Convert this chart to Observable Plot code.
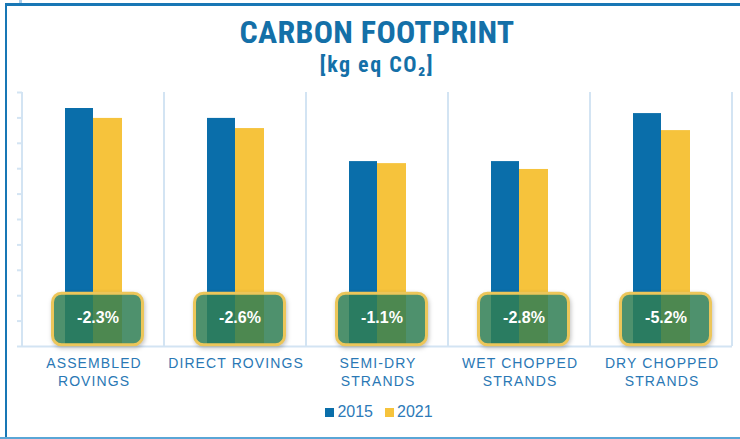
<!DOCTYPE html>
<html>
<head>
<meta charset="utf-8">
<script src="https://cdn.jsdelivr.net/npm/d3@7"></script>
<script src="https://cdn.jsdelivr.net/npm/@observablehq/plot@0.6"></script>
<style>
  html, body { margin: 0; padding: 0; background: #fff; }
  #wrap { position: relative; width: 740px; height: 439px; overflow: hidden; background: #fff; }
  #wrap svg { position: absolute; left: 0; top: 0; }
  .border-top { position: absolute; left: 5px; top: 3px; width: 735px; height: 3px; background: #1877b5; }
  .border-left { position: absolute; left: 5px; top: 3px; width: 2px; height: 436px; background: #1877b5; }
  .border-bottom { position: absolute; left: 0; top: 437px; width: 740px; height: 2px; background: #5aa6d6; }
  .tab { position: absolute; left: 19px; top: 0; width: 3px; height: 3px; background: #a8cdea; }
  .title { position: absolute; left: 22px; width: 710px; text-align: center; color: #1470a8;
           font-family: "Liberation Sans Narrow", "Roboto Condensed", "Liberation Sans", sans-serif; font-weight: bold; }
  .t1 { top: 16px; font-size: 32px; line-height: 32px; letter-spacing: 0.3px; }
  .t2 { top: 53px; font-size: 22px; line-height: 24px; letter-spacing: 1.5px; }
  .legend { position: absolute; left: 0; width: 740px; top: 403px; text-align: center; padding-left: 18px; box-sizing: border-box;
            font-family: "Liberation Sans", Arial, sans-serif; font-size: 16px; color: #2d7ab8; }
  .legend span.item { display: inline-block; margin: 0 6px; }
  .legend span.sw { display: inline-block; width: 9px; height: 9px; margin-right: 3px; vertical-align: 0px; }
  .box { filter: drop-shadow(1px 2px 2px rgba(0,0,0,0.25)); }
</style>
</head>
<body>
<div id="wrap">
  <div class="tab"></div>
  <div class="border-top"></div>
  <div class="border-left"></div>
  <div class="border-bottom"></div>
  <div class="title t1">CARBON FOOTPRINT</div>
  <div class="title t2">[kg eq CO₂]</div>
  <div class="legend" id="legend"></div>
</div>
<script>
const categories = ["ASSEMBLED ROVINGS", "DIRECT ROVINGS", "SEMI-DRY STRANDS", "WET CHOPPED STRANDS", "DRY CHOPPED STRANDS"];
const labelLine1 = ["ASSEMBLED", "DIRECT ROVINGS", "SEMI-DRY", "WET CHOPPED", "DRY CHOPPED"];
const labelLine2 = ["ROVINGS", "", "STRANDS", "STRANDS", "STRANDS"];
const values2015 = [9.37, 8.98, 7.28, 7.28, 9.17];
const values2021 = [8.98, 8.58, 7.20, 6.97, 8.50];
const changes = ["-2.3%", "-2.6%", "-1.1%", "-2.8%", "-5.2%"];
const years = ["2015", "2021"];
const yTicks = d3.range(0, 11);

const colors = { "2015": "#0a6eaa", "2021": "#f6c33c" };
const gridColor = "#d3e4f3";
const labelColor = "#2a78b5";
const labelSpacing = 1.1;

const rows = categories.map((c, i) => ({ cat: c, l1: labelLine1[i], l2: labelLine2[i], v15: values2015[i], v21: values2021[i], ch: changes[i] }));

const chart = Plot.plot({
  width: 740,
  height: 439,
  marginTop: 92,
  marginBottom: 93,
  marginLeft: 22,
  marginRight: 8,
  x: { domain: categories, padding: 0, axis: null },
  y: { domain: [0, 10], axis: null },
  marks: [
    // category separators
    Plot.barY(rows, { x: "cat", y1: 0, y2: 10, insetLeft: 141, insetRight: -1, fill: gridColor }),
    // left axis line
    Plot.barY(rows.slice(0, 1), { x: "cat", y1: 0, y2: 10, insetLeft: -1, insetRight: 141, fill: gridColor }),
    Plot.axisY({ ticks: yTicks, tickSize: 5, tickFormat: () => "", stroke: gridColor, strokeWidth: 2 }),
    Plot.ruleY([0], { stroke: gridColor, strokeWidth: 2 }),
    // bars
    Plot.barY(rows, { x: "cat", y: "v15", insetLeft: 43, insetRight: 71, fill: colors[years[0]] }),
    Plot.barY(rows, { x: "cat", y: "v21", insetLeft: 71, insetRight: 42, fill: colors[years[1]] }),
    // change boxes
    Plot.barY(rows, { x: "cat", y1: 0.05, y2: 2.08, insetLeft: 30.5, insetRight: 21.5, rx: 9, ry: 9,
      fill: "rgb(50,132,88)", fillOpacity: 0.82, stroke: "#ecc65a", strokeWidth: 3,
      render: (index, scales, values, dims, ctx, next) => { const g = next(index, scales, values, dims, ctx); g.setAttribute("class", "box"); return g; } }),
    Plot.text(rows, { x: "cat", text: "ch", frameAnchor: "bottom", dy: -24, dx: 4.5, fill: "#fff",
      fontWeight: "bold", fontSize: 16, fontFamily: "'Liberation Sans Narrow', 'Liberation Sans', sans-serif" }),
    // x labels
    ...["l1", "l2"].map((k, j) => Plot.text(rows, { x: "cat", text: k, frameAnchor: "bottom", dy: 21 + 18 * j, dx: labelSpacing / 2,
      fill: labelColor, fontSize: 14, fontFamily: "'Liberation Sans', Arial, sans-serif",
      render: (index, scales, values, dims, ctx, next) => { const g = next(index, scales, values, dims, ctx); g.style.letterSpacing = labelSpacing + "px"; return g; } }))
  ]
});
document.getElementById("wrap").appendChild(chart);

const legend = document.getElementById("legend");
years.forEach(y => {
  const item = document.createElement("span");
  item.className = "item";
  const sw = document.createElement("span");
  sw.className = "sw";
  sw.style.background = colors[y];
  item.appendChild(sw);
  item.appendChild(document.createTextNode(y));
  legend.appendChild(item);
});
</script>
</body>
</html>
